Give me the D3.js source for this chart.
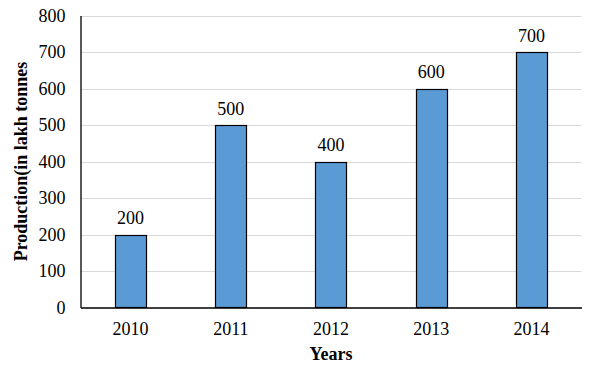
<!DOCTYPE html>
<html lang="en">
<head>
<meta charset="UTF-8">
<title>Production by year</title>
<script src="https://d3js.org/d3.v7.min.js"></script>
<style>
    body{margin:0;background:#fff;}
    svg{display:block;font-family:"Liberation Serif","Times New Roman",serif;}
</style>
</head>
<body>
<svg width="589" height="365"></svg>
<script>
    // data
    const years = ["2010", "2011", "2012", "2013", "2014"];
    const production = [200, 500, 400, 600, 700];
    const yTicks = [0, 100, 200, 300, 400, 500, 600, 700, 800];

    const svg = d3.select("svg");
    const plotLeft = 80.5, plotRight = 581.5, plotTop = 15.5, plotBottom = 307.5;
    const fontFam = "Liberation Serif";

    const x = d3.scaleBand().domain(years).range([plotLeft, plotRight]).paddingInner(0.69).paddingOuter(0.345);
    const y = d3.scaleLinear().domain([0, 800]).range([plotBottom, plotTop]);

    // gridlines
    svg.append("g")
        .selectAll("line")
        .data(yTicks.filter(d => d > 0))
        .enter().append("line")
        .attr("x1", plotLeft).attr("x2", plotRight)
        .attr("y1", d => Math.round(y(d)) + 0.5).attr("y2", d => Math.round(y(d)) + 0.5)
        .attr("stroke", "#d9d9d9").attr("stroke-width", 1);

    // bars
    const data = years.map((yr, i) => ({year: yr, value: production[i]}));
    svg.append("g")
        .selectAll("rect")
        .data(data)
        .enter().append("rect")
        .attr("x", d => Math.round(x(d.year)) + 0.5)
        .attr("y", d => Math.round(y(d.value)) + 0.5)
        .attr("width", Math.round(x.bandwidth()))
        .attr("height", d => y(0) - Math.round(y(d.value)) - 0.5)
        .attr("fill", "#5b9bd5")
        .attr("stroke", "#000").attr("stroke-width", 1.2);

    // value labels
    svg.append("g")
        .selectAll("text")
        .data(data)
        .enter().append("text")
        .attr("x", d => x(d.year) + x.bandwidth() / 2)
        .attr("y", d => y(d.value) - 10.5)
        .attr("text-anchor", "middle")
        .attr("font-size", 18)
        .attr("font-family", fontFam)
        .attr("fill", "#000")
        .text(d => d.value);

    // axes
    const yAxis = d3.axisLeft(y).tickValues(yTicks).tickSize(0).tickPadding(15);
    const gy = svg.append("g").attr("transform", `translate(${plotLeft},0)`).call(yAxis)
        .attr("font-family", fontFam).attr("font-size", 18);
    gy.select(".domain").attr("stroke", "#000").attr("stroke-width", 1.3);
    gy.selectAll("text").attr("fill", "#000");

    const xAxis = d3.axisBottom(x).tickSize(0).tickPadding(15);
    const gx = svg.append("g").attr("transform", `translate(0,${plotBottom})`).call(xAxis)
        .attr("font-family", fontFam).attr("font-size", 18);
    gx.select(".domain").attr("stroke", "#000").attr("stroke-width", 1.3);
    gx.selectAll("text").attr("fill", "#000");

    // axis titles
    svg.append("text")
        .attr("x", (plotLeft + plotRight) / 2).attr("y", 360)
        .attr("text-anchor", "middle")
        .attr("font-family", fontFam)
        .attr("font-size", 18).attr("font-weight", "bold")
        .text("Years");

    svg.append("text")
        .attr("transform", `translate(27,${(plotTop + plotBottom) / 2}) rotate(-90)`)
        .attr("text-anchor", "middle")
        .attr("font-family", fontFam)
        .attr("font-size", 18).attr("font-weight", "bold")
        .text("Production(in lakh tonnes");
</script>
</body>
</html>
